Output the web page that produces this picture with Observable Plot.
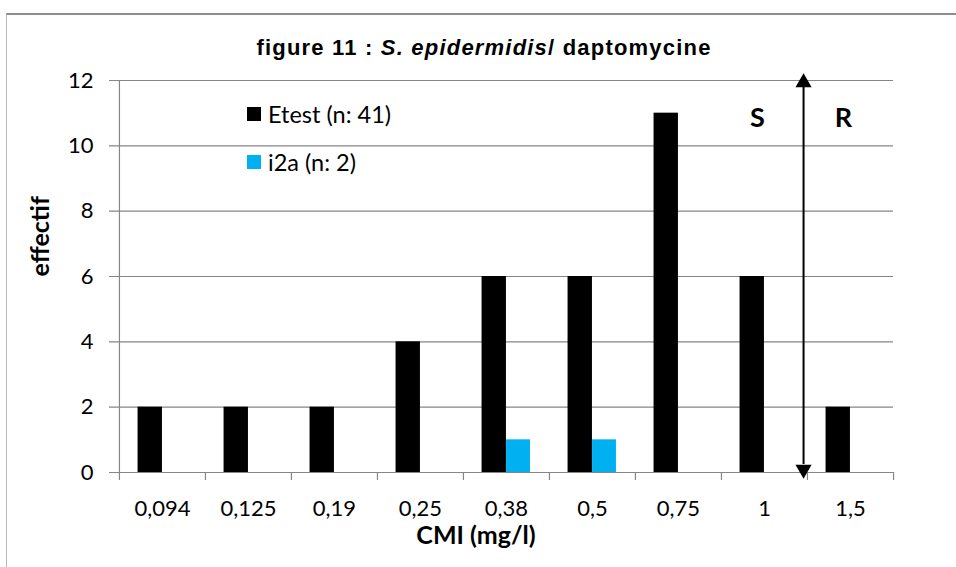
<!DOCTYPE html>
<html>
<head>
<meta charset="utf-8">
<script src="https://cdn.jsdelivr.net/npm/d3@7"></script>
<script src="https://cdn.jsdelivr.net/npm/@observablehq/plot@0.6"></script>
<style>
  html, body { margin: 0; padding: 0; background: #fff; }
  #wrap { position: relative; width: 956px; height: 567px; overflow: hidden; font-family: Lato, "Open Sans", sans-serif; }
  #frame { position: absolute; left: 6px; top: 13px; width: 1000px; height: 600px;
           border-top: 2px solid #8c8c8c; border-left: 1px solid #b8b8b8; box-sizing: border-box; }
  #chart { position: absolute; left: 0; top: 0; }
  #title { position: absolute; left: 0; width: 968px; top: 35px; text-align: center;
           font-family: "Liberation Sans", Arial, sans-serif; font-weight: bold; font-size: 22px;
           letter-spacing: 1.2px; color: #000; }
  .legend { position: absolute; left: 247px; font-size: 23.5px; color: #000; display: flex; align-items: center; }
  .legend .sw { width: 14px; height: 14px; margin-right: 7px; }
</style>
</head>
<body>
<div id="wrap">
  <div id="frame"></div>
  <div id="chart"></div>
  <div id="title">figure 11 : <i>S. epidermidis</i>/ daptomycine</div>
  <div id="legend"></div>
</div>
<script>
// MIC classes (mg/l) and number of strains per class
const categories = ["0,094", "0,125", "0,19", "0,25", "0,38", "0,5", "0,75", "1", "1,5"];
const etest = [2, 2, 2, 4, 6, 6, 11, 6, 2];
const i2a = [0, 0, 0, 0, 1, 1, 0, 0, 0];
const yTicks = [0, 2, 4, 6, 8, 10, 12];
const series = [
  {name: "Etest (n: 41)", color: "#000000"},
  {name: "i2a (n: 2)", color: "#00B0F0"}
];
const zones = [{label: "S", cat: "1"}, {label: "R", cat: "1,5"}];
const breakpointAfter = "1"; // S/R breakpoint sits between "1" and "1,5"

const rows = categories.map((c, i) => ({cat: c, etest: etest[i], i2a: i2a[i]}));

const width = 956, height = 567;
const mL = 118, mR = 63, mT = 80, mB = 95;
const bw = (width - mL - mR) / categories.length;
const barW = 24.5;
const grid = "#868686";

const chart = Plot.plot({
  width, height,
  marginLeft: mL, marginRight: mR, marginTop: mT, marginBottom: mB,
  style: {fontFamily: "Lato, 'Open Sans', sans-serif", fontSize: "22px", color: "#000", background: "transparent"},
  x: {domain: categories, padding: 0, label: null, tickSize: 0, tickPadding: 28},
  y: {domain: [0, 12], ticks: yTicks, label: null, tickSize: 0, tickPadding: 25},
  marks: [
    // horizontal gridlines with small outside ticks
    Plot.ruleY(yTicks, {y: d => d, stroke: grid, strokeWidth: 1.2, insetLeft: -9}),
    // vertical axis line
    Plot.ruleX([categories[0]], {x: d => d, y1: 12, y2: 0, insetBottom: -8, dx: -bw / 2, stroke: grid, strokeWidth: 1.2}),
    // category boundary ticks
    Plot.ruleX(categories.slice(1), {x: d => d, y1: 0, y2: 0, insetBottom: -8, dx: -bw / 2, stroke: grid, strokeWidth: 1.2}),
    Plot.ruleX([categories[categories.length - 1]], {x: d => d, y1: 0, y2: 0, insetBottom: -8, dx: bw / 2, stroke: grid, strokeWidth: 1.2}),
    // grouped bars
    Plot.barY(rows, {x: "cat", y: "etest", fill: series[0].color, insetLeft: bw / 2 - barW, insetRight: bw / 2}),
    Plot.barY(rows.filter(d => d.i2a > 0), {x: "cat", y: "i2a", fill: series[1].color, insetLeft: bw / 2, insetRight: bw / 2 - barW + 0.5}),
    // double-headed breakpoint arrow
    Plot.ruleX([breakpointAfter], {x: d => d, dx: bw / 2 - 4, y1: 0, y2: 12, insetTop: -8, insetBottom: -1, stroke: "#000", strokeWidth: 2}),
    Plot.dot([breakpointAfter], {x: d => d, y: 12, dx: bw / 2 - 4, dy: 2, symbol: "triangle", r: 6, fill: "#000", stroke: null}),
    Plot.dot([breakpointAfter], {x: d => d, y: 0, dx: bw / 2 - 4, dy: -3, symbol: "triangle", rotate: 180, r: 6, fill: "#000", stroke: null}),
    // S / R zone labels
    Plot.text(zones, {x: "cat", y: 10.85, text: "label", dx: -7, fontSize: 27, fontWeight: "bold", fill: "#000"}),
    // axis titles
    Plot.text(["effectif"], {frameAnchor: "left", dx: -78, rotate: -90, fontSize: 25, fontWeight: "bold", fill: "#000"}),
    Plot.text(["CMI (mg/l)"], {frameAnchor: "bottom", dx: -30, dy: 71, fontSize: 25, fontWeight: "bold", fill: "#000"})
  ]
});
document.getElementById("chart").appendChild(chart);

// legend
const legend = document.getElementById("legend");
series.forEach((s, i) => {
  const item = document.createElement("div");
  item.className = "legend";
  item.style.top = (100 + i * 48) + "px";
  item.innerHTML = `<span class="sw" style="background:${s.color}"></span><span>${s.name}</span>`;
  legend.appendChild(item);
});
</script>
</body>
</html>
